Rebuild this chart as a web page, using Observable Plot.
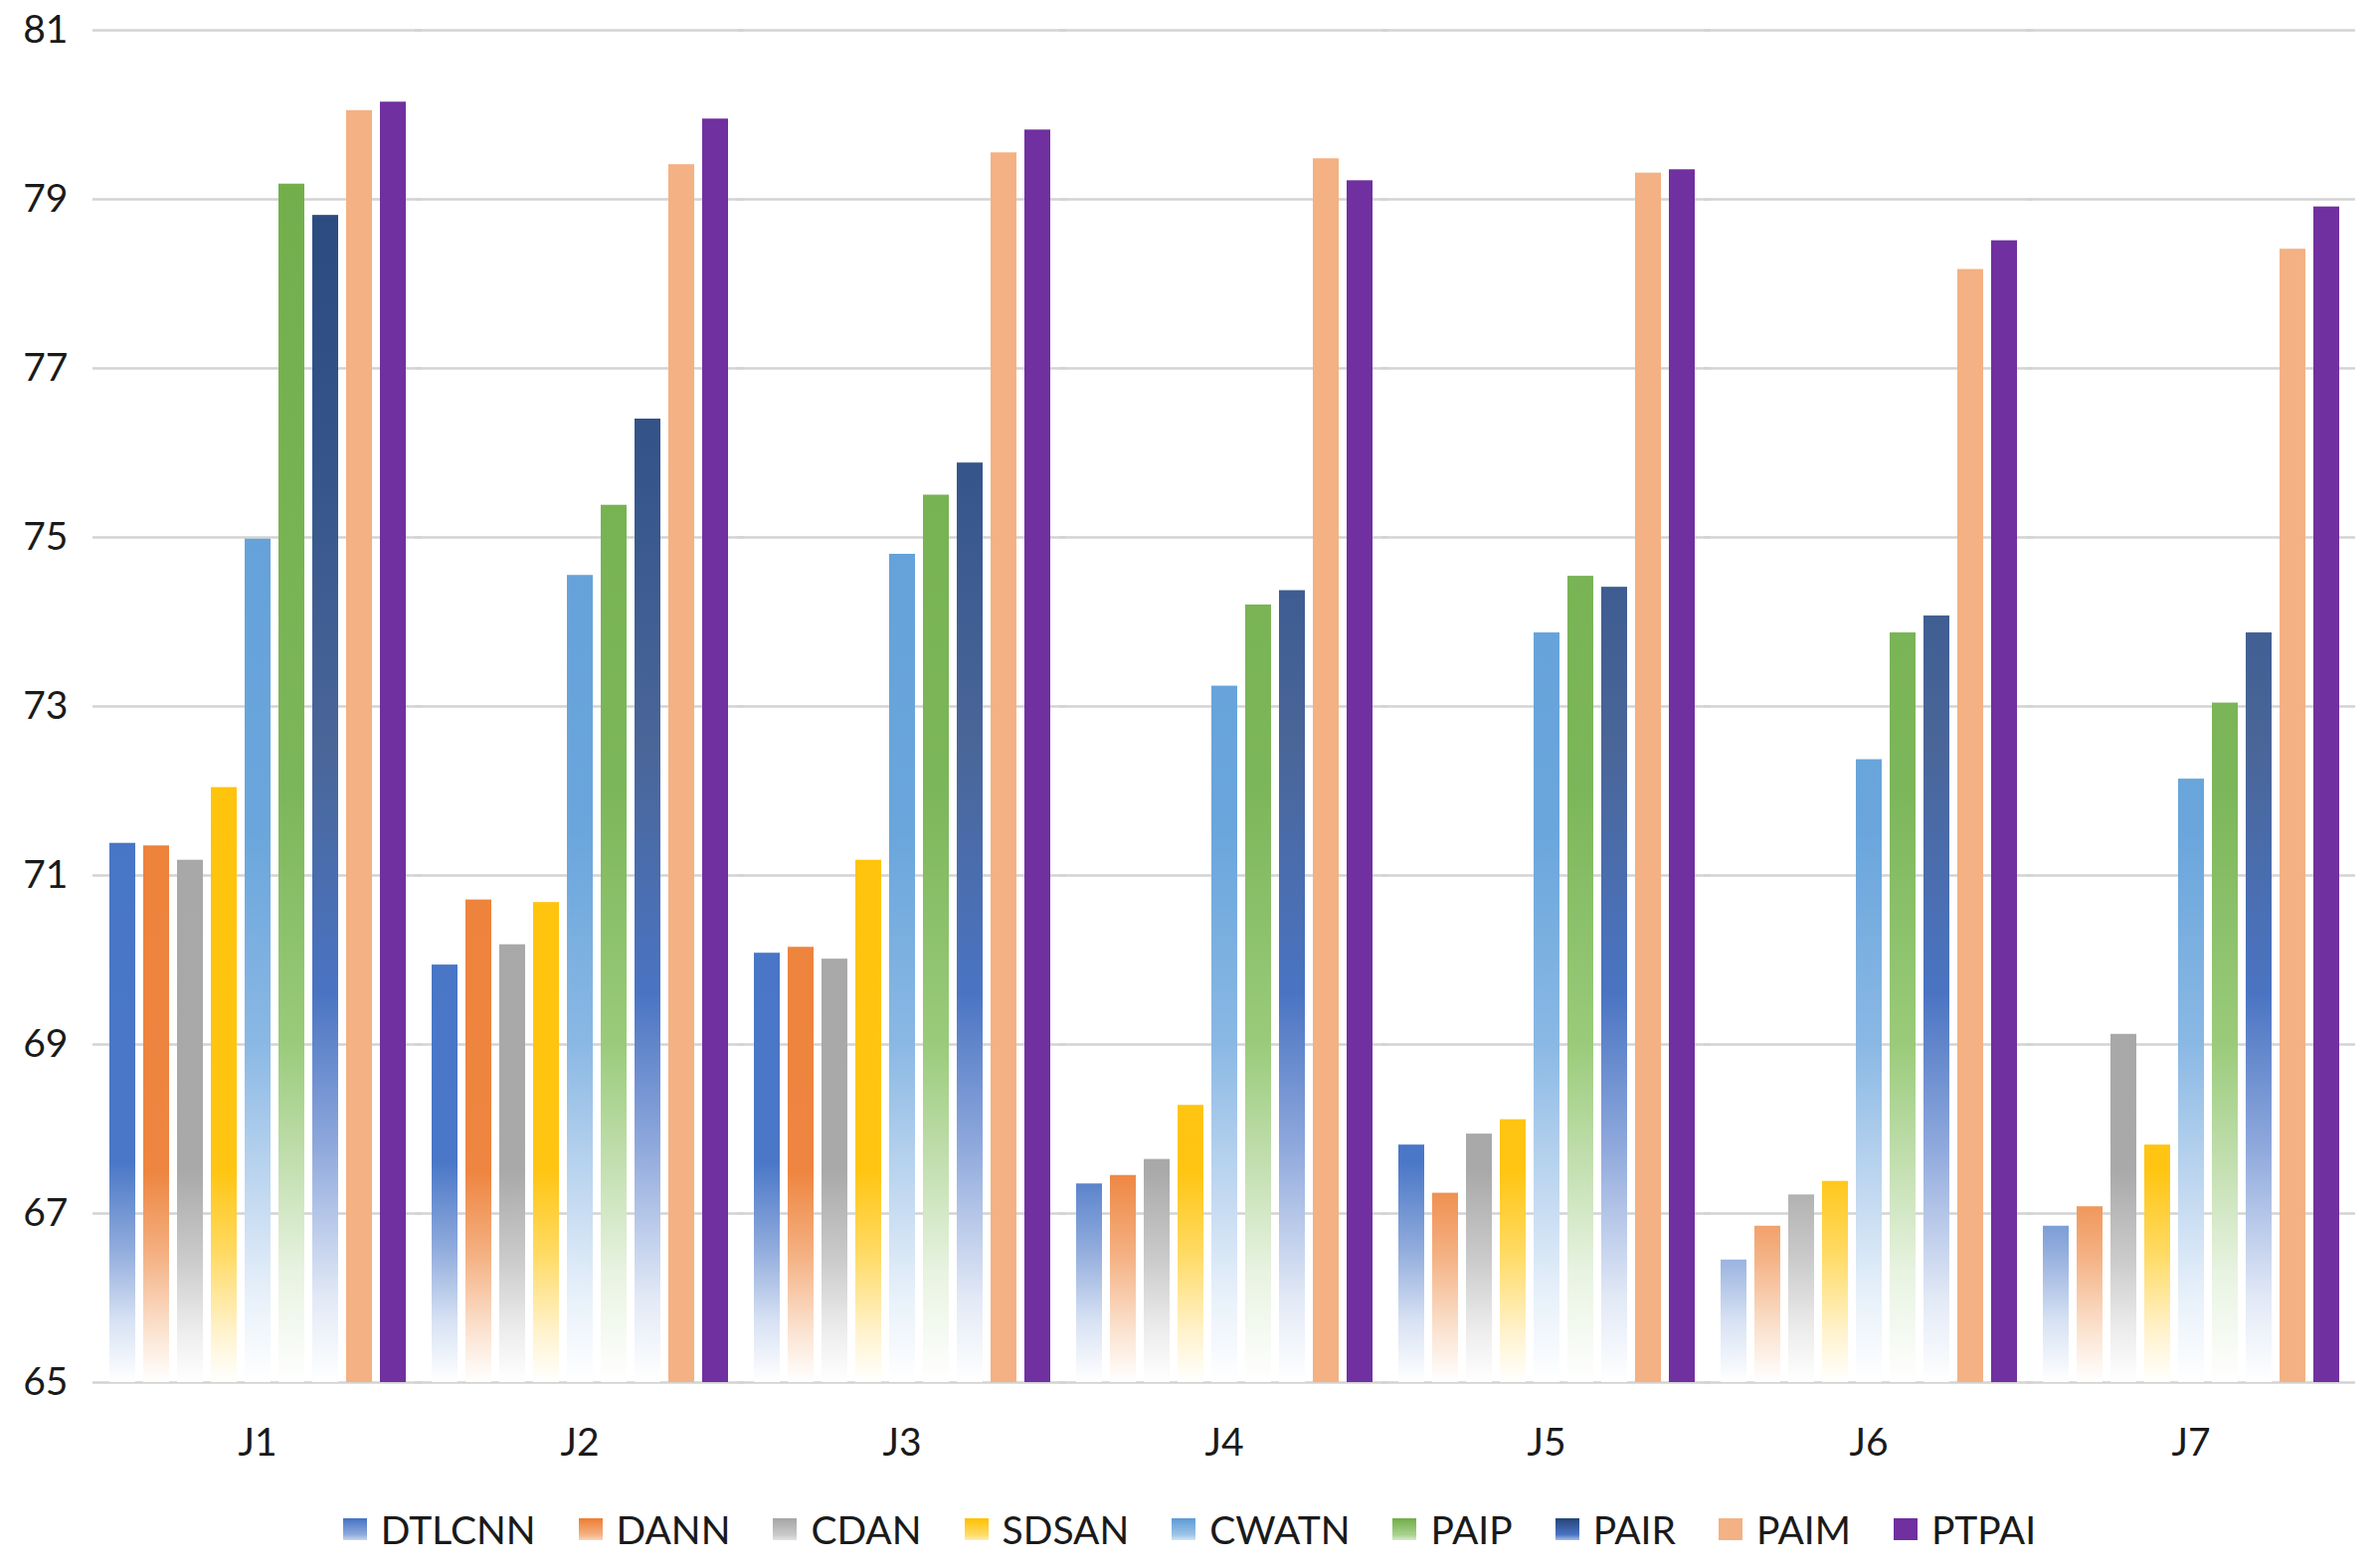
<!DOCTYPE html>
<html>
<head>
<meta charset="utf-8">
<script src="https://cdn.jsdelivr.net/npm/d3@7"></script>
<script src="https://cdn.jsdelivr.net/npm/@observablehq/plot@0.6"></script>
<style>
  body { margin: 0; background: #ffffff; }
  #chart { width: 2392px; }
  .legend {
    display: flex; justify-content: center; align-items: center;
    height: 76px; gap: 43px; padding-right: 0px;
    font-family: Lato, "Open Sans", sans-serif;
    font-size: 39px; color: #1a1a1a;
  }
  .item { display: flex; align-items: center; }
  .sw { width: 24px; height: 22px; margin-right: 14px; }
</style>
</head>
<body>
<div id="chart"></div>
<div class="legend" id="legend"></div>
<script>
// ---- data ----
const groups = ["J1", "J2", "J3", "J4", "J5", "J6", "J7"];
const seriesNames = ["DTLCNN", "DANN", "CDAN", "SDSAN", "CWATN", "PAIP", "PAIR", "PAIM", "PTPAI"];
const DTLCNN = [71.38, 69.94, 70.08, 67.35, 67.81, 66.45, 66.85];
const DANN   = [71.35, 70.71, 70.15, 67.45, 67.24, 66.85, 67.08];
const CDAN   = [71.18, 70.18, 70.01, 67.64, 67.94, 67.22, 69.12];
const SDSAN  = [72.04, 70.68, 71.18, 68.28, 68.11, 67.38, 67.81];
const CWATN  = [74.98, 74.55, 74.80, 73.24, 73.87, 72.37, 72.14];
const PAIP   = [79.18, 75.38, 75.50, 74.20, 74.54, 73.87, 73.04];
const PAIR   = [78.81, 76.40, 75.88, 74.37, 74.41, 74.07, 73.87];
const PAIM   = [80.05, 79.41, 79.55, 79.48, 79.31, 78.17, 78.41];
const PTPAI  = [80.15, 79.95, 79.82, 79.22, 79.35, 78.51, 78.91];
const yTicks = [65, 67, 69, 71, 73, 75, 77, 79, 81];

const seriesValues = [DTLCNN, DANN, CDAN, SDSAN, CWATN, PAIP, PAIR, PAIM, PTPAI];

// ---- styles (gradient stops: [value, colour]) ----
const gradients = [
  [[81, "#4472c4"], [67.6, "#4a77c7"], [66.6, "#8faadc"], [65.7, "#d9e3f4"], [65, "#ffffff"]],
  [[81, "#ed7d31"], [67.5, "#ee8540"], [66.5, "#f4b183"], [65.6, "#fbe3d1"], [65, "#ffffff"]],
  [[81, "#a5a5a5"], [67.5, "#a9a9a9"], [66.5, "#c9c9c9"], [65.6, "#ededed"], [65, "#ffffff"]],
  [[81, "#ffc000"], [67.5, "#ffc512"], [66.5, "#ffdb66"], [65.6, "#fff2cc"], [65, "#ffffff"]],
  [[81, "#5b9bd5"], [71.5, "#6aa6dc"], [69, "#8ab8e4"], [67, "#c9ddf2"], [66, "#e8f1fa"], [65, "#ffffff"]],
  [[81, "#70ad47"], [72, "#7cb65a"], [69, "#9acb7a"], [67.5, "#c5e0b3"], [66.3, "#e8f3e1"], [65, "#ffffff"]],
  [[81, "#264478"], [76, "#34548a"], [72.5, "#4a6699"], [69.6, "#4a74c2"], [67.8, "#8ea8dc"], [66, "#e2e9f6"], [65, "#ffffff"]],
  [[81, "#f4b183"], [65, "#f4b183"]],
  [[81, "#7030a0"], [65, "#7030a0"]]
];
const legendCss = [
  "linear-gradient(#4472c4, #8faadc 75%, #c9d6ee)",
  "linear-gradient(#ed7d31, #f4b183 75%, #f9d5bb)",
  "linear-gradient(#a5a5a5, #c9c9c9 75%, #e3e3e3)",
  "linear-gradient(#ffc000, #ffdb66 75%, #ffedb3)",
  "linear-gradient(#5b9bd5, #9dc3e6 75%, #d3e4f5)",
  "linear-gradient(#70ad47, #a9d18e 75%, #d6eacb)",
  "linear-gradient(#264478, #4a74c2 75%, #a9bde6)",
  "#f4b183",
  "#7030a0"
];

const data = [];
seriesNames.forEach((s, i) => {
  groups.forEach((g, j) => data.push({group: g, series: s, idx: i, value: seriesValues[i][j]}));
});

const font = 'Lato, "Open Sans", sans-serif';

const plot = Plot.plot({
  width: 2392,
  height: 1500,
  marginTop: 30,
  marginBottom: 110,
  marginLeft: 92,
  marginRight: 23,
  style: {fontFamily: font, fontSize: "39px", color: "#1a1a1a", background: "#ffffff"},
  y: {domain: [65, 81], ticks: yTicks, tickSize: 0, tickPadding: 39, label: null, tickFormat: d => String(d)},
  fx: {domain: groups, paddingInner: 0.0635, paddingOuter: 0.0423, axis: "bottom", tickSize: 0, tickPadding: 46, label: null},
  x: {domain: seriesNames, paddingInner: 0.25, paddingOuter: 0, axis: null},
  marks: [
    Plot.ruleY(yTicks, {stroke: "#d3d3d3", strokeWidth: 2.5, insetLeft: -14, insetRight: -14}),
    Plot.barY(data, {fx: "group", x: "series", y1: 65, y2: "value", fill: d => `url(#grad-${d.idx})`})
  ]
});

// gradient definitions in the plot's own y coordinates
const yScale = plot.scale("y");
const svg = d3.select(plot.tagName.toLowerCase() === "svg" ? plot : plot.querySelector("svg"));
const defs = svg.insert("defs", ":first-child");
gradients.forEach((stops, i) => {
  const yTop = yScale.apply(81), yBot = yScale.apply(65);
  const lg = defs.append("linearGradient")
    .attr("id", `grad-${i}`)
    .attr("gradientUnits", "userSpaceOnUse")
    .attr("x1", 0).attr("x2", 0)
    .attr("y1", yTop).attr("y2", yBot);
  stops.forEach(([v, c]) => {
    lg.append("stop")
      .attr("offset", (yScale.apply(v) - yTop) / (yBot - yTop))
      .attr("stop-color", c);
  });
});

document.getElementById("chart").appendChild(plot);

// legend
const legend = document.getElementById("legend");
seriesNames.forEach((s, i) => {
  const item = document.createElement("div");
  item.className = "item";
  const sw = document.createElement("div");
  sw.className = "sw";
  sw.style.background = legendCss[i];
  const t = document.createElement("span");
  t.textContent = s;
  item.appendChild(sw);
  item.appendChild(t);
  legend.appendChild(item);
});
</script>
</body>
</html>
